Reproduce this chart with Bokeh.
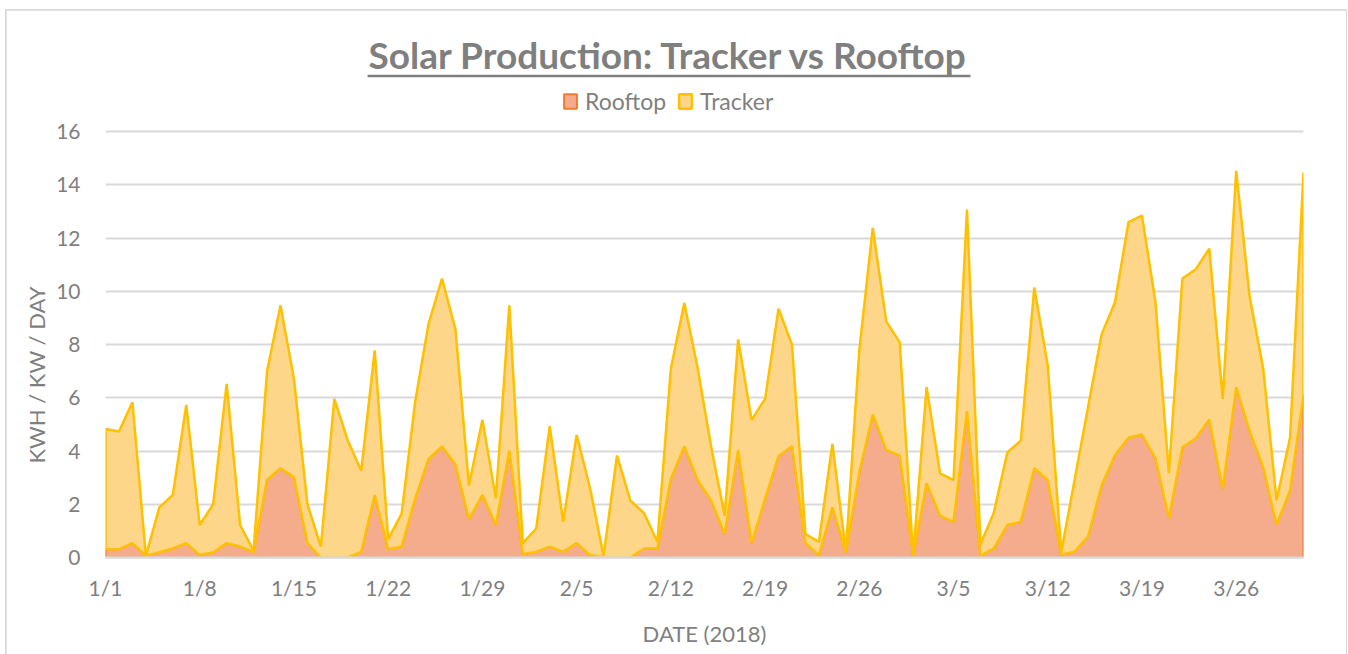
from bokeh.plotting import figure
from bokeh.models import Range1d, FixedTicker, Legend, LegendItem, BoxAnnotation, Label, Title
from bokeh.embed import file_html
from bokeh.resources import INLINE

# Daily production, 1/1/2018 .. 3/31/2018 (stacked area: Rooftop at bottom, Tracker on top)
rooftop = [0.31, 0.31, 0.54, 0.06, 0.20, 0.34, 0.54, 0.10, 0.19, 0.54,
           0.41, 0.20, 2.92, 3.35, 3.01, 0.54, 0.00, 0.00, 0.00, 0.21,
           2.35, 0.31, 0.41, 2.20, 3.70, 4.17, 3.48, 1.44, 2.35, 1.22,
           4.02, 0.13, 0.21, 0.41, 0.21, 0.54, 0.09, 0.00, 0.00, 0.00,
           0.34, 0.34, 2.95, 4.17, 2.89, 2.13, 0.88, 4.04, 0.54, 2.20,
           3.80, 4.18, 0.54, 0.09, 1.88, 0.19, 3.20, 5.37, 4.04, 3.83,
           0.06, 2.79, 1.57, 1.34, 5.50, 0.06, 0.34, 1.22, 1.34, 3.35,
           2.91, 0.10, 0.22, 0.80, 2.70, 3.85, 4.50, 4.62, 3.73, 1.48,
           4.14, 4.48, 5.18, 2.57, 6.40, 4.74, 3.40, 1.23, 2.52, 6.10]
tracker = [4.52, 4.42, 5.29, 0.00, 1.68, 2.01, 5.19, 1.12, 1.81, 5.98,
           0.81, 0.05, 4.07, 6.12, 3.70, 1.46, 0.41, 5.96, 4.39, 3.05,
           5.43, 0.38, 1.24, 3.63, 5.08, 6.31, 5.09, 1.26, 2.82, 1.00,
           5.45, 0.41, 0.88, 4.52, 1.13, 4.06, 2.51, 0.06, 3.83, 2.13,
           1.33, 0.25, 4.14, 5.39, 4.20, 2.01, 0.69, 4.15, 4.63, 3.76,
           5.55, 3.81, 0.34, 0.50, 2.39, 0.02, 4.58, 7.01, 4.83, 4.26,
           0.00, 3.61, 1.59, 1.57, 7.57, 0.44, 1.35, 2.73, 3.05, 6.79,
           4.30, 0.09, 2.71, 4.86, 5.68, 5.75, 8.10, 8.22, 5.87, 1.69,
           6.34, 6.35, 6.42, 3.39, 8.12, 5.05, 3.72, 0.92, 1.98, 8.36]
tick_days = [0, 7, 14, 21, 28, 35, 42, 49, 56, 63, 70, 77, 84]
tick_labels = ["1/1", "1/8", "1/15", "1/22", "1/29", "2/5", "2/12",
               "2/19", "2/26", "3/5", "3/12", "3/19", "3/26"]
y_ticks = [0, 2, 4, 6, 8, 10, 12, 14, 16]

FONT = "Lato"
GRAY = "#7F7F7F"

days = list(range(len(rooftop)))
top = [r + t for r, t in zip(rooftop, tracker)]

p = figure(width=1340, height=644, output_backend="svg", toolbar_location=None,
           x_range=Range1d(0, days[-1]), y_range=Range1d(0, 20.17),
           min_border_left=99, min_border_right=43, min_border_top=10,
           min_border_bottom=97, background_fill_color="white",
           border_fill_color="white", outline_line_color=None)
p.title.text = ""
p.styles = {"margin-left": "6px", "margin-top": "10px",
            "outline": "2px solid #D9D9D9", "outline-offset": "-1px"}

# Rooftop area (bottom)
r_roof = p.patch(days + [days[-1], days[0]], rooftop + [0, 0],
                 fill_color="#F4AC8C", line_color="#ED7D31", line_width=2)
# Tracker area stacked on Rooftop
r_track = p.patch(days + days[::-1], top + rooftop[::-1],
                  fill_color="#FDD68A", line_color="#FFC000", line_width=2.5)

# Axes
p.xaxis.ticker = FixedTicker(ticks=tick_days)
p.xaxis.major_label_overrides = {d: l for d, l in zip(tick_days, tick_labels)}
yt = FixedTicker(ticks=y_ticks)
p.yaxis.ticker = yt
p.ygrid.ticker = yt
for ax in (p.xaxis[0], p.yaxis[0]):
    ax.major_tick_line_color = None
    ax.minor_tick_line_color = None
    ax.major_label_text_font = FONT
    ax.major_label_text_font_size = "21px"
    ax.major_label_text_color = GRAY
    ax.axis_label_text_font = FONT
    ax.axis_label_text_font_size = "22px"
    ax.axis_label_text_font_style = "normal"
    ax.axis_label_text_color = GRAY
p.xaxis.axis_label = "DATE (2018)"
p.xaxis.axis_line_color = "#D9D9D9"
p.xaxis.axis_line_width = 2.5
p.yaxis.axis_line_color = None
p.xaxis.major_label_standoff = 11
p.xaxis.axis_label_standoff = 17
p.yaxis.major_label_standoff = 19

p.xgrid.grid_line_color = None
p.ygrid.grid_line_color = "#D9D9D9"
p.ygrid.grid_line_width = 2

# Y axis title, placed (as in the original) below the middle of the plot
p.add_layout(Title(text="KWH / KW / DAY", align="left", offset=94, standoff=8,
                   text_font=FONT, text_font_size="22px",
                   text_font_style="normal", text_color=GRAY), "left")

# Chart title with underline
p.add_layout(Label(x=41.86, y=18.9, text="Solar Production: Tracker vs Rooftop",
                   text_align="center", text_baseline="middle",
                   text_font=FONT, text_font_size="37px", text_font_style="bold",
                   text_color=GRAY))
p.add_layout(BoxAnnotation(left=19.47, right=64.26, top=18.13, bottom=18.04,
                           fill_color=GRAY, fill_alpha=1, line_color=None))

legend = Legend(items=[LegendItem(label="Rooftop", renderers=[r_roof]),
                       LegendItem(label="Tracker", renderers=[r_track])],
                orientation="horizontal", location=(457, 442),
                label_text_font=FONT, label_text_font_size="23px",
                label_text_color=GRAY, glyph_width=16, glyph_height=18,
                label_standoff=7, spacing=11, padding=0, margin=0,
                border_line_color=None, background_fill_alpha=0)
p.add_layout(legend, "center")

open("out.html", "w").write(file_html(p, INLINE))
